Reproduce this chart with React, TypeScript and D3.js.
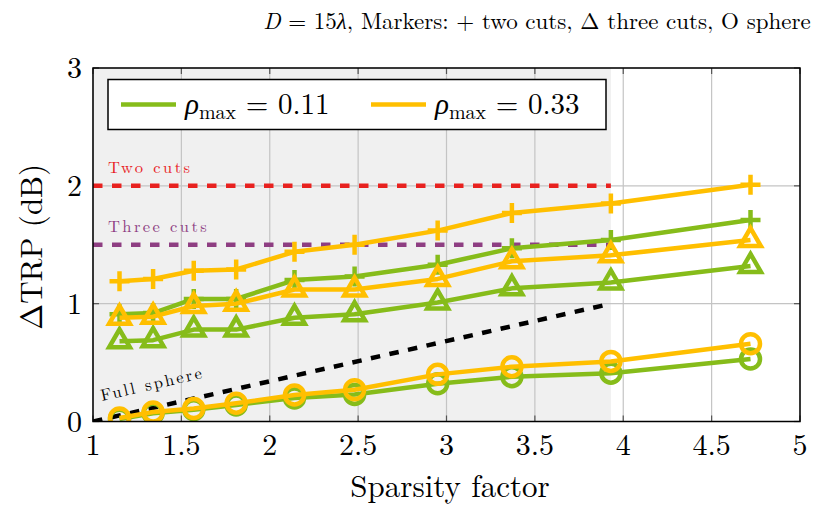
import React from 'react';
import * as d3 from 'd3';

// sparsity factors (x positions of markers)
const sparsity = [1.15, 1.34, 1.57, 1.81, 2.14, 2.48, 2.95, 3.37, 3.93, 4.72];

// rho_max = 0.11 (green)
const greenTwoCuts = [0.91, 0.92, 1.04, 1.04, 1.2, 1.23, 1.33, 1.47, 1.54, 1.71];
const greenThreeCuts = [0.68, 0.69, 0.78, 0.78, 0.88, 0.91, 1.01, 1.13, 1.18, 1.32];
const greenSphere = [0.02, 0.07, 0.1, 0.14, 0.2, 0.23, 0.32, 0.38, 0.41, 0.53];

// rho_max = 0.33 (orange)
const orangeTwoCuts = [1.19, 1.21, 1.28, 1.29, 1.44, 1.5, 1.62, 1.77, 1.85, 2.01];
const orangeThreeCuts = [0.88, 0.89, 0.98, 1.0, 1.12, 1.12, 1.21, 1.36, 1.41, 1.54];
const orangeSphere = [0.03, 0.08, 0.11, 0.155, 0.225, 0.27, 0.4, 0.465, 0.51, 0.66];

// reference levels
const refTwoCuts = 2;
const refThreeCuts = 1.5;
const refRange = [1, 3.93];
const fullSphere = [
  { x: 1, y: 0 },
  { x: 3.93, y: 1 },
];

const xTicks = [1, 1.5, 2, 2.5, 3, 3.5, 4, 4.5, 5];
const yTicks = [0, 1, 2, 3];

const GREEN = '#86bc1a';
const ORANGE = '#ffbf00';
const RED = '#e8211f';
const PURPLE = '#8e3e82';
const FONT = "'Latin Modern Roman', 'Liberation Serif', serif";
const GREEK = "'Liberation Serif', serif";

const margin = { left: 93, right: 21, top: 68, bottom: 95.5 };
const W = 821;
const H = 517;

type Marker = 'plus' | 'tri' | 'circle';

const font = (size: number, extra: React.CSSProperties = {}): React.CSSProperties => ({
  fontFamily: FONT,
  fontSize: size,
  ...extra,
});

export default function App() {
  const x = d3.scaleLinear().domain([1, 5]).range([margin.left, W - margin.right]);
  const y = d3.scaleLinear().domain([0, 3]).range([H - margin.bottom, margin.top]);

  const line = d3
    .line<number>()
    .x((_, i) => x(sparsity[i]))
    .y((d) => y(d));

  const series: { vals: number[]; color: string; marker: Marker }[] = [
    { vals: greenTwoCuts, color: GREEN, marker: 'plus' },
    { vals: greenThreeCuts, color: GREEN, marker: 'tri' },
    { vals: greenSphere, color: GREEN, marker: 'circle' },
    { vals: orangeTwoCuts, color: ORANGE, marker: 'plus' },
    { vals: orangeThreeCuts, color: ORANGE, marker: 'tri' },
    { vals: orangeSphere, color: ORANGE, marker: 'circle' },
  ];

  const drawMarker = (m: Marker, cx: number, cy: number, color: string, key: string) => {
    if (m === 'plus') {
      const s = 10;
      return (
        <path
          key={key}
          d={`M${cx - s},${cy}H${cx + s}M${cx},${cy - s}V${cy + s}`}
          stroke={color}
          strokeWidth={4.5}
          fill="none"
        />
      );
    }
    if (m === 'tri') {
      const r = 12;
      const pts = [0, 1, 2]
        .map((k) => {
          const a = -Math.PI / 2 + (k * 2 * Math.PI) / 3;
          return `${cx + r * Math.cos(a)},${cy + r * Math.sin(a)}`;
        })
        .join(' ');
      return (
        <polygon key={key} points={pts} stroke={color} strokeWidth={4.5} fill="none" strokeLinejoin="miter" />
      );
    }
    return <circle key={key} cx={cx} cy={cy} r={9.5} stroke={color} strokeWidth={4.5} fill="none" />;
  };

  const x0 = x.range()[0];
  const x1 = x.range()[1];
  const y0 = y.range()[0];
  const y1 = y.range()[1];

  const p0 = { x: x(fullSphere[0].x), y: y(fullSphere[0].y) };
  const p1 = { x: x(fullSphere[1].x), y: y(fullSphere[1].y) };
  const angle = (Math.atan2(p1.y - p0.y, p1.x - p0.x) * 180) / Math.PI;

  const legendEntry = (lx: number, color: string, value: string) => (
    <g>
      <line x1={lx} x2={lx + 55} y1={104.5} y2={104.5} stroke={color} strokeWidth={4.5} />
      <text x={lx + 64} y={114} style={font(29)} fill="#000">
        <tspan style={{ fontFamily: GREEK, fontStyle: 'italic' }}>ρ</tspan>
        <tspan style={{ fontSize: 20 }} dy={5}>
          max
        </tspan>
        <tspan dy={-5}> = {value}</tspan>
      </text>
    </g>
  );

  return (
    <svg width={W} height={H} style={{ display: 'block', position: 'absolute', left: 0, top: 0 }}>
      <defs>
        <clipPath id="plot">
          <rect x={x0} y={y1} width={x1 - x0} height={y0 - y1} />
        </clipPath>
      </defs>

      {/* shaded region */}
      <rect
        x={x(refRange[0])}
        y={y1}
        width={x(refRange[1]) - x(refRange[0])}
        height={y0 - y1}
        fill="#f0f0f0"
      />

      {/* grid */}
      {xTicks.map((t) => (
        <line key={`gx${t}`} x1={x(t)} x2={x(t)} y1={y0} y2={y1} stroke="#c4c4c4" strokeWidth={1.2} />
      ))}
      {yTicks.map((t) => (
        <line key={`gy${t}`} x1={x0} x2={x1} y1={y(t)} y2={y(t)} stroke="#c4c4c4" strokeWidth={1.2} />
      ))}

      {/* tick marks (inside) */}
      {xTicks.map((t) => (
        <g key={`tx${t}`} stroke="#555" strokeWidth={1.2}>
          <line x1={x(t)} x2={x(t)} y1={y0} y2={y0 - 6} />
          <line x1={x(t)} x2={x(t)} y1={y1} y2={y1 + 6} />
        </g>
      ))}
      {yTicks.map((t) => (
        <g key={`ty${t}`} stroke="#555" strokeWidth={1.2}>
          <line x1={x0} x2={x0 + 6} y1={y(t)} y2={y(t)} />
          <line x1={x1} x2={x1 - 6} y1={y(t)} y2={y(t)} />
        </g>
      ))}

      <g clipPath="url(#plot)">
        {/* reference lines */}
        <line
          x1={x(refRange[0])}
          x2={x(refRange[1])}
          y1={y(refTwoCuts)}
          y2={y(refTwoCuts)}
          stroke={RED}
          strokeWidth={4.5}
          strokeDasharray="9.5 9.5"
        />
        <line
          x1={x(refRange[0])}
          x2={x(refRange[1])}
          y1={y(refThreeCuts)}
          y2={y(refThreeCuts)}
          stroke={PURPLE}
          strokeWidth={4.5}
          strokeDasharray="9.5 9.5"
        />
        <line x1={p0.x} y1={p0.y} x2={p1.x} y2={p1.y} stroke="#000" strokeWidth={4.5} strokeDasharray="9.5 9.5" />

        {/* series */}
        {series.map((s, si) => (
          <g key={`s${si}`}>
            <path d={line(s.vals) ?? ''} fill="none" stroke={s.color} strokeWidth={4.5} strokeLinejoin="round" />
            {s.vals.map((v, i) => drawMarker(s.marker, x(sparsity[i]), y(v), s.color, `m${si}-${i}`))}
          </g>
        ))}
      </g>

      {/* reference labels */}
      <text x={108} y={173} fill={RED} style={font(16.5, { letterSpacing: 2.4 })}>
        Two cuts
      </text>
      <text x={108} y={231.5} fill={PURPLE} style={font(16.5, { letterSpacing: 2.4 })}>
        Three cuts
      </text>
      <text transform={`translate(102,401) rotate(${angle})`} fill="#000" style={font(16.5, { letterSpacing: 2.4 })}>
        Full sphere
      </text>

      {/* frame */}
      <rect x={x0} y={y1} width={x1 - x0} height={y0 - y1} fill="none" stroke="#000" strokeWidth={1.5} />

      {/* legend */}
      <rect x={108} y={79.5} width={498} height={50} fill="#fff" stroke="#000" strokeWidth={1.5} />
      {legendEntry(121, GREEN, '0.11')}
      {legendEntry(371, ORANGE, '0.33')}

      {/* tick labels */}
      {xTicks.map((t) => (
        <text key={`lx${t}`} x={x(t)} y={455} textAnchor="middle" style={font(30)}>
          {t}
        </text>
      ))}
      {yTicks.map((t) => (
        <text key={`ly${t}`} x={82} y={y(t) + 10} textAnchor="end" style={font(30)}>
          {t}
        </text>
      ))}

      {/* axis labels */}
      <text x={450} y={497} textAnchor="middle" style={font(31)}>
        Sparsity factor
      </text>
      <text transform={`translate(42,${(y0 + y1) / 2 + 2}) rotate(-90)`} textAnchor="middle" style={font(31)}>
        ΔTRP (dB)
      </text>

      {/* title */}
      <text x={537} y={29} textAnchor="middle" style={font(23)}>
        <tspan style={{ fontStyle: 'italic' }}>D</tspan>
        <tspan> = 15</tspan>
        <tspan style={{ fontFamily: GREEK, fontStyle: 'italic' }}>λ</tspan>
        <tspan>, Markers: + two cuts, Δ three cuts, O sphere</tspan>
      </text>
    </svg>
  );
}
